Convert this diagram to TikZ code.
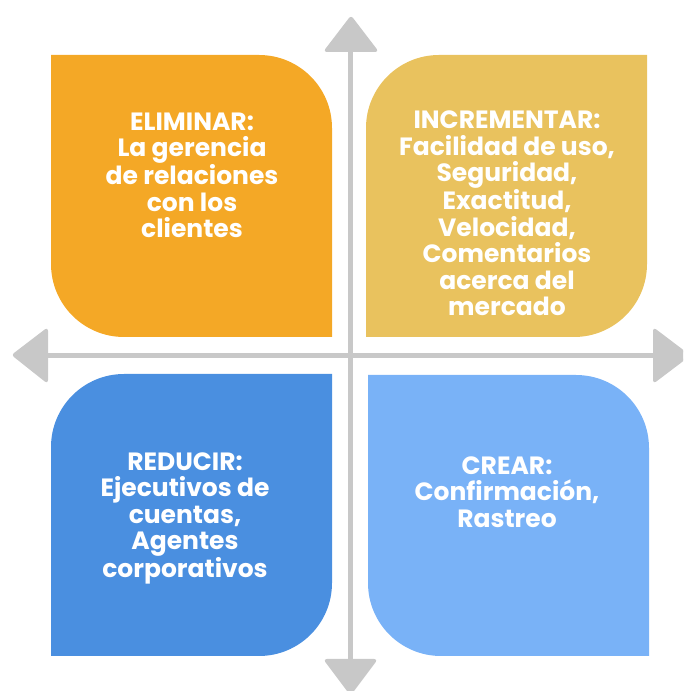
\documentclass[tikz,border=0pt]{standalone}
\usepackage{fontspec}
\setmainfont{Poppins}
\definecolor{cOrange}{HTML}{F4A826}
\definecolor{cYellow}{HTML}{E9C25E}
\definecolor{cBlue}{HTML}{4A8FE0}
\definecolor{cLight}{HTML}{79B2F7}
\definecolor{cGray}{HTML}{C8C8C8}
\begin{document}
\begin{tikzpicture}[x=1pt,y=1pt,
  lbl/.style={text=white,align=center,inner sep=0pt,font=\fontsize{25}{26.5}\selectfont\bfseries},
  axis/.style={draw=cGray,line width=5.7pt},
  tip/.style={fill=cGray,draw=cGray,line width=2pt,rounded corners=2pt}]
\useasboundingbox (0,0) rectangle (683,691);
\clip (0,0) rectangle (683,691);
% boxes
\fill[cOrange] (51,636) -- (259,636) arc[start angle=90,end angle=0,radius=73] -- (332,354) -- (124,354) arc[start angle=270,end angle=180,radius=73] -- cycle;
\fill[cYellow] (366,563) arc[start angle=180,end angle=90,radius=73] -- (647,636) -- (647,427) arc[start angle=0,end angle=-90,radius=73] -- (366,354) -- cycle;
\fill[cBlue] (51,244) arc[start angle=180,end angle=90,radius=73] -- (332,317) -- (332,108) arc[start angle=0,end angle=-90,radius=73] -- (51,35) -- cycle;
\fill[cLight] (368,316) -- (576,316) arc[start angle=90,end angle=0,radius=73] -- (649,35) -- (441,35) arc[start angle=270,end angle=180,radius=73] -- cycle;
% axes
\coordinate (top) at (350.5,639);
\coordinate (bot) at (350.5,32);
\coordinate (lft) at (48,335.5);
\coordinate (rgt) at (653,335.5);
\draw[axis] (top) -- (bot);
\draw[axis] (lft) -- (rgt);
\path[tip] (351,674) -- (377,640) -- (325,640) -- cycle;
\path[tip] (350.5,-3) -- (376,31) -- (325,31) -- cycle;
\path[tip] (13,336) -- (47,362) -- (47,309) -- cycle;
\path[tip] (689,335.5) -- (654,362) -- (654,309) -- cycle;
% labels
\node[lbl] (elim) at (192,515.5) {ELIMINAR:\\La gerencia\\de relaciones\\con los\\clientes};
\node[lbl] (incr) at (507,477.5) {INCREMENTAR:\\Facilidad de uso,\\Seguridad,\\Exactitud,\\Velocidad,\\Comentarios\\acerca del\\mercado};
\node[lbl] (redu) at (185,172.5) {REDUCIR:\\Ejecutivos de\\cuentas,\\Agentes\\corporativos};
\node[lbl] (crea) at (507,199) {CREAR:\\Confirmación,\\Rastreo};
\end{tikzpicture}
\end{document}
